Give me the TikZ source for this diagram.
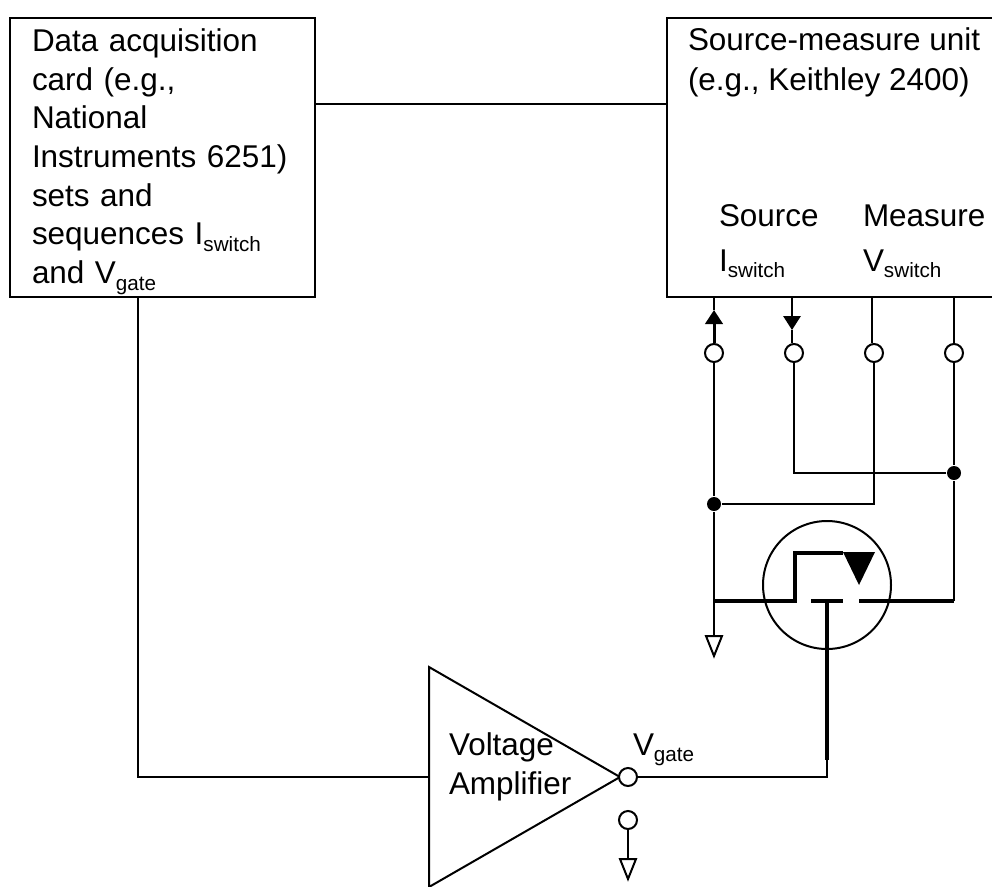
\documentclass[tikz,border=0pt]{standalone}
\usepackage{fontspec}
\setmainfont{Liberation Sans}
\usetikzlibrary{arrows.meta,shapes.geometric}
\newcommand{\subtext}[1]{\raisebox{-5pt}{\fontsize{15.5}{15.5}\selectfont #1}}
\begin{document}
\begin{tikzpicture}
[x=0.75pt,y=-0.75pt,line width=1.5pt,
 every node/.style={font=\fontsize{23.6}{29}\selectfont},
 box/.style={rectangle,draw=black,inner sep=0pt},
 textlabel/.style={anchor=base west,inner sep=0pt},
 terminal/.style={circle,draw=black,fill=white,inner sep=0pt,minimum size=13.5pt},
 junction/.style={circle,fill=black,inner sep=0pt,minimum size=10.5pt},
 gnd/.style={isosceles triangle,isosceles triangle apex angle=44,
   isosceles triangle stretches,shape border rotate=-90,draw=black,
   inner sep=0pt,outer sep=0pt,minimum width=12pt,minimum height=15pt,anchor=apex},
 heavy/.style={line width=3pt},
 tip/.style={-{Triangle[length=10.5pt,width=13pt]}}]
\useasboundingbox (0,0) rectangle (992,886);

% instruments
\node (dacq) [box,minimum width=228.75pt,minimum height=209.25pt] at (162.5,157.5) {};
\node (dacqtext) [inner sep=0pt,text width=195.75pt,align=left,
  font=\fontsize{23.6}{29.03}\selectfont] at (162.5,161.5)
  {Data acquisition\\card (e.g.,\\National\\Instruments 6251)\\sets and\\
   sequences I\subtext{switch}\\and V\subtext{gate}};
\node (smu) [box,minimum width=249.75pt,minimum height=209.25pt] at (833.5,157.5) {};
\node (smuname) [textlabel] at (687,50) {Source-measure unit};
\node (smumodel) [textlabel] at (687,90) {(e.g., Keithley 2400)};
\node (sourcelabel) [textlabel] at (718,226) {Source};
\node (switchi) [textlabel] at (718,271) {I\subtext{switch}};
\node (measurelabel) [textlabel] at (862,226) {Measure};
\node (switchv) [textlabel] at (862,271) {V\subtext{switch}};
\draw (dacq.east |- 0,104) -- (smu.west |- 0,104);

% amplifier
\node (amp) [isosceles triangle,isosceles triangle apex angle=60,isosceles triangle stretches,
  draw=black,inner sep=0pt,outer sep=0pt,minimum width=165pt,minimum height=143.25pt,anchor=apex] at (620,777) {};
\node (amptop) [textlabel] at (448,755) {Voltage};
\node (ampbottom) [textlabel] at (448,794) {Amplifier};
\node (gatelabel) [textlabel] at (632,755) {V\subtext{gate}};
\coordinate (dacqout) at (138,297);
\draw (dacqout) |- (amp.west);
\node (vout) [terminal] at (628,777) {};
\node (vref) [terminal] at (628,820) {};
\node (gndamp) [gnd] at (628,879) {};
\draw (vref) -- (gndamp.north);

% terminals
\node (t1) [terminal] at (714,353) {};
\node (t2) [terminal] at (794,353) {};
\node (t3) [terminal] at (874,353) {};
\node (t4) [terminal] at (954,353) {};
\node (j1) [junction] at (714,504) {};
\node (j2) [junction] at (954,473) {};
\coordinate (port1) at (714,297);
\coordinate (port2) at (792,297);
\coordinate (port3) at (872,297);
\coordinate (port4) at (954,297);
\coordinate (tip1) at (714,310);
\coordinate (tip2) at (792,330);
\draw [tip,line width=2.25pt] (t1) -- (tip1);
\draw (tip1) -- (port1);
\draw [tip] (port2) -- (tip2);
\draw (tip2) -- (t2.north -| tip2);
\draw (port3) -- (t3.north -| port3);
\draw (port4) -- (t4);
\draw (t1) -- (j1);
\draw (t4) -- (j2);
\draw (t2) |- (j2);
\draw (t3) |- (j1);

% transistor
\node (fet) [circle,draw=black,inner sep=0pt,minimum size=96pt] at (827,585) {};
\coordinate (src) at (714,601);
\coordinate (drn) at (954,601);
\coordinate (gatebar) at (827,601);
\coordinate (gateend) at (827,760);
\node (gndsrc) [gnd] at (714,656) {};
\draw (j1) -- (src) -- (gndsrc.north);
\draw (j2) -- (drn);
\draw [heavy] (src) -- (795,601) -- (795,553) -- (843,553);
\draw [heavy] (811,601) -- (843,601);
\draw [heavy] (859,601) -- (drn);
\fill (843,552) -- (875,552) -- (859,585) -- cycle;
\draw [heavy] (gatebar) -- (gateend);
\draw (vout) -| (gateend);
\end{tikzpicture}
\end{document}
